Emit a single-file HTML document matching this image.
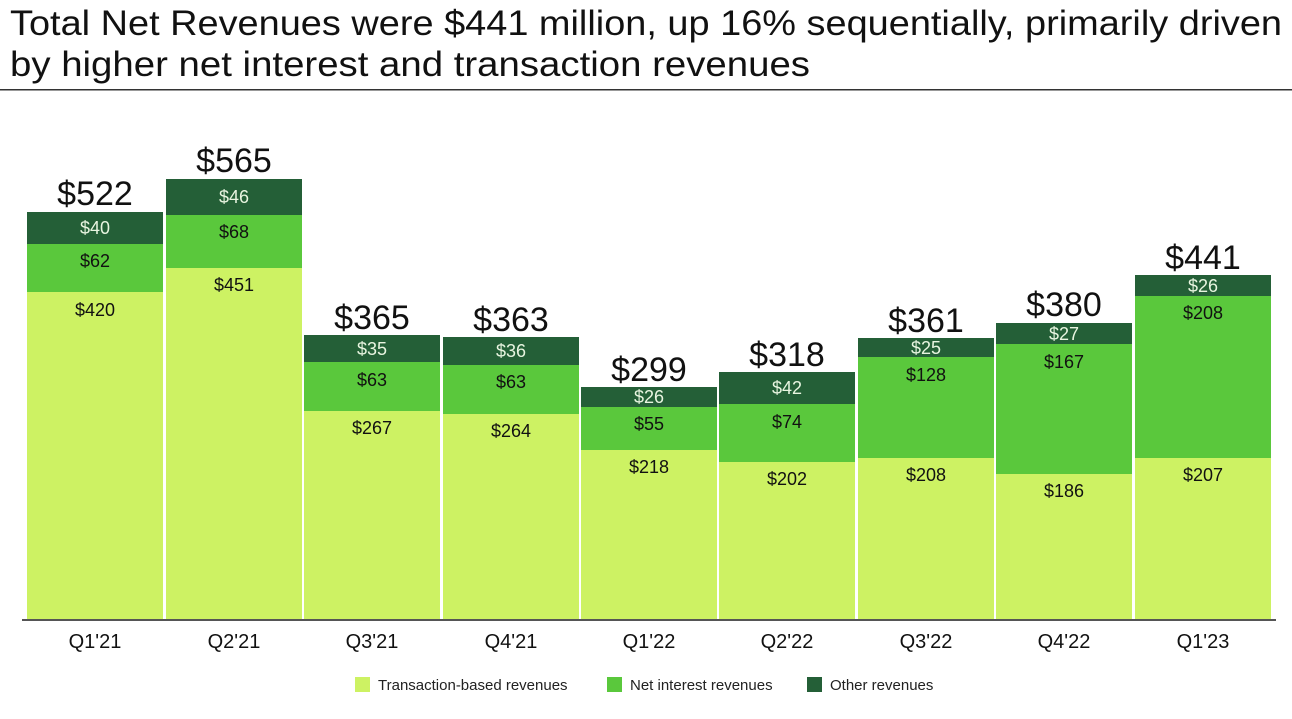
<!DOCTYPE html><html><head><style>body{margin:0;background:#fff}svg{display:block}</style></head><body>
<svg width="1292" height="719" xmlns="http://www.w3.org/2000/svg" font-family="Liberation Sans, Arial, sans-serif">
<text x="10" y="35" font-size="35" fill="#111" textLength="1272" lengthAdjust="spacingAndGlyphs">Total Net Revenues were $441 million, up 16% sequentially, primarily driven</text>
<text x="10" y="76" font-size="35" fill="#111" textLength="800" lengthAdjust="spacingAndGlyphs">by higher net interest and transaction revenues</text>
<rect x="0" y="89" width="1292" height="1.5" fill="#333"/>
<g>
<rect x="27" y="212" width="136" height="32" fill="#245f37"/><rect x="27" y="244" width="136" height="48" fill="#5ac83c"/><rect x="27" y="292" width="136" height="327" fill="#cdf263"/>
<rect x="166" y="179" width="136" height="36" fill="#245f37"/><rect x="166" y="215" width="136" height="53" fill="#5ac83c"/><rect x="166" y="268" width="136" height="351" fill="#cdf263"/>
<rect x="304" y="335" width="136" height="27" fill="#245f37"/><rect x="304" y="362" width="136" height="49" fill="#5ac83c"/><rect x="304" y="411" width="136" height="208" fill="#cdf263"/>
<rect x="443" y="337" width="136" height="28" fill="#245f37"/><rect x="443" y="365" width="136" height="49" fill="#5ac83c"/><rect x="443" y="414" width="136" height="205" fill="#cdf263"/>
<rect x="581" y="387" width="136" height="20" fill="#245f37"/><rect x="581" y="407" width="136" height="43" fill="#5ac83c"/><rect x="581" y="450" width="136" height="169" fill="#cdf263"/>
<rect x="719" y="372" width="136" height="32" fill="#245f37"/><rect x="719" y="404" width="136" height="58" fill="#5ac83c"/><rect x="719" y="462" width="136" height="157" fill="#cdf263"/>
<rect x="858" y="338" width="136" height="19" fill="#245f37"/><rect x="858" y="357" width="136" height="101" fill="#5ac83c"/><rect x="858" y="458" width="136" height="161" fill="#cdf263"/>
<rect x="996" y="323" width="136" height="21" fill="#245f37"/><rect x="996" y="344" width="136" height="130" fill="#5ac83c"/><rect x="996" y="474" width="136" height="145" fill="#cdf263"/>
<rect x="1135" y="275" width="136" height="21" fill="#245f37"/><rect x="1135" y="296" width="136" height="162" fill="#5ac83c"/><rect x="1135" y="458" width="136" height="161" fill="#cdf263"/>
</g>
<g font-size="34" fill="#111" text-anchor="middle">
<text x="95" y="205">$522</text><text x="234" y="172">$565</text><text x="372" y="329">$365</text><text x="511" y="331">$363</text><text x="649" y="381">$299</text><text x="787" y="366">$318</text><text x="926" y="332">$361</text><text x="1064" y="316">$380</text><text x="1203" y="269">$441</text>
</g>
<g font-size="18" fill="#e8f5e0" text-anchor="middle">
<text x="95" y="234">$40</text><text x="234" y="203">$46</text><text x="372" y="355">$35</text><text x="511" y="357">$36</text><text x="649" y="403">$26</text><text x="787" y="394">$42</text><text x="926" y="354">$25</text><text x="1064" y="340">$27</text><text x="1203" y="292">$26</text>
</g>
<g font-size="18" fill="#111" text-anchor="middle">
<text x="95" y="267">$62</text><text x="234" y="238">$68</text><text x="372" y="386">$63</text><text x="511" y="388">$63</text><text x="649" y="430">$55</text><text x="787" y="428">$74</text><text x="926" y="381">$128</text><text x="1064" y="368">$167</text><text x="1203" y="319">$208</text>
<text x="95" y="316">$420</text><text x="234" y="291">$451</text><text x="372" y="434">$267</text><text x="511" y="437">$264</text><text x="649" y="473">$218</text><text x="787" y="485">$202</text><text x="926" y="481">$208</text><text x="1064" y="497">$186</text><text x="1203" y="481">$207</text>
</g>
<rect x="22" y="619" width="1254" height="2" fill="#555"/>
<g font-size="20" fill="#111" text-anchor="middle">
<text x="95" y="648">Q1'21</text><text x="234" y="648">Q2'21</text><text x="372" y="648">Q3'21</text><text x="511" y="648">Q4'21</text><text x="649" y="648">Q1'22</text><text x="787" y="648">Q2'22</text><text x="926" y="648">Q3'22</text><text x="1064" y="648">Q4'22</text><text x="1203" y="648">Q1'23</text>
</g>
<g font-size="15" fill="#222">
<rect x="355" y="677" width="15" height="15" fill="#cdf263"/><text x="378" y="690">Transaction-based revenues</text>
<rect x="607" y="677" width="15" height="15" fill="#5ac83c"/><text x="630" y="690">Net interest revenues</text>
<rect x="807" y="677" width="15" height="15" fill="#245f37"/><text x="830" y="690">Other revenues</text>
</g>
</svg></body></html>
